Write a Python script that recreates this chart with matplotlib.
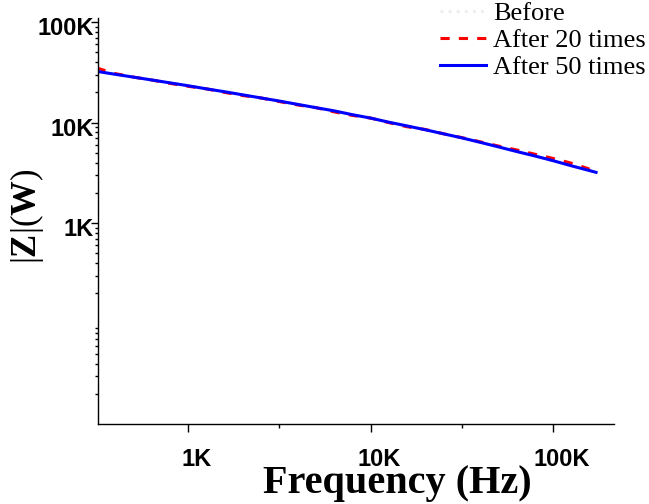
import matplotlib
matplotlib.use("Agg")
import matplotlib.pyplot as plt
import matplotlib.transforms as mtransforms
from matplotlib.ticker import FixedLocator, LogLocator, NullFormatter
import numpy as np

# frequency points (Hz)
freq = [316, 398, 501, 631, 794, 1000, 1259, 1585, 1995, 2512, 3162, 3981, 5012,
        6310, 7943, 10000, 12589, 15849, 19953, 25119, 31623, 39811, 50119,
        63096, 79433, 100000, 125893, 158489, 172000]

# |Z| (ohm)
z_before = [32400, 30300, 28400, 26600, 24900, 23300, 21700, 20300, 18900, 17600,
            16400, 15200, 14100, 13100, 12000, 11100, 10100, 9270, 8490, 7740,
            7050, 6370, 5740, 5160, 4660, 4180, 3720, 3330, 3200]
z_after20 = [35000, 30800, 28400, 26600, 24600, 23000, 21700, 20000, 18600, 17600,
             16200, 15000, 14100, 12800, 11800, 11100, 10000, 9100, 8550, 7740,
             7100, 6450, 5850, 5350, 4850, 4400, 3950, 3450, 3750]
z_after50 = [32400, 30300, 28400, 26600, 24900, 23300, 21700, 20300, 18900, 17600,
             16400, 15200, 14100, 13100, 12000, 11100, 10100, 9270, 8490, 7740,
             7050, 6370, 5740, 5160, 4660, 4180, 3720, 3330, 3200]

xticks = [1e3, 1e4, 1e5]
xticklabels = ["1K", "10K", "100K"]
yticks = [1e3, 1e4, 1e5]
yticklabels = ["1K", "10K", "100K"]

W, H = 649, 504
fig = plt.figure(figsize=(W / 100, H / 100), dpi=100)
ax = fig.add_axes([98 / W, 1 - 424 / H, (614 - 98) / W, (424 - 18) / H])

ax.plot(freq, z_before, color="#eeeeee", ls=":", lw=2.2, label="Before")
ax.plot(freq, z_after20, color="#ff0000", ls=(0, (3, 3)), lw=2.2, label="After 20 times")
ax.plot(freq, z_after50, color="#0000ff", ls="-", lw=2.2, label="After 50 times")

ax.set_xscale("log")
ax.set_yscale("log")
ax.set_xlim(10 ** 2.507, 10 ** 5.334)
ax.set_ylim(10, 1.1e5)

ax.spines["top"].set_visible(False)
ax.spines["right"].set_visible(False)
for s in ["left", "bottom"]:
    ax.spines[s].set_linewidth(1.0)

tick_font = dict(family="Liberation Sans", weight="bold", size=17)
ax.xaxis.set_major_locator(FixedLocator(xticks))
ax.xaxis.set_minor_locator(FixedLocator([10 ** 2.5, 10 ** 3.5, 10 ** 4.5]))
ax.xaxis.set_minor_formatter(NullFormatter())
ax.set_xticklabels(xticklabels, fontdict=tick_font)
ax.yaxis.set_major_locator(FixedLocator(yticks))
ax.yaxis.set_minor_locator(LogLocator(base=10, subs=np.arange(2, 10)))
ax.yaxis.set_minor_formatter(NullFormatter())
ax.set_yticklabels(yticklabels, fontdict=tick_font)

ax.tick_params(axis="x", which="major", direction="out", length=6, width=1, pad=11)
ax.tick_params(axis="x", which="minor", direction="out", length=3, width=1)
ax.tick_params(axis="y", which="major", direction="out", length=5, width=1, pad=-2)
ax.tick_params(axis="y", which="minor", direction="out", length=2.5, width=1)

# shift tick labels a bit like the original
dx = mtransforms.ScaledTranslation(9 / 100, 0, fig.dpi_scale_trans)
for lab in ax.get_xticklabels():
    lab.set_transform(lab.get_transform() + dx)
dy = mtransforms.ScaledTranslation(0, -4 / 100, fig.dpi_scale_trans)
for lab in ax.get_yticklabels():
    lab.set_transform(lab.get_transform() + dy)

fig.text(397 / W, 1 - 483 / H, "Frequency (Hz)", family="Liberation Serif",
         weight="bold", size=29, ha="center", va="center")
plt.rcParams["mathtext.fontset"] = "custom"
plt.rcParams["mathtext.rm"] = "Liberation Serif"
plt.rcParams["mathtext.bf"] = "Liberation Serif:bold"
fig.text(27 / W, 1 - 216 / H, r"$\mathrm{|}\mathbf{Z}\mathrm{|(}\mathbf{W}\mathrm{)}$",
         size=25, rotation=90, ha="center", va="center")

leg = fig.legend(loc="upper left", bbox_to_anchor=(440 / W, 1 - 2 / H), frameon=False,
                 prop=dict(family="Liberation Serif", size=19), handlelength=1.75,
                 handletextpad=0.25, labelspacing=0.12, borderaxespad=0, borderpad=0)

fig.savefig("out.png", dpi=100)
